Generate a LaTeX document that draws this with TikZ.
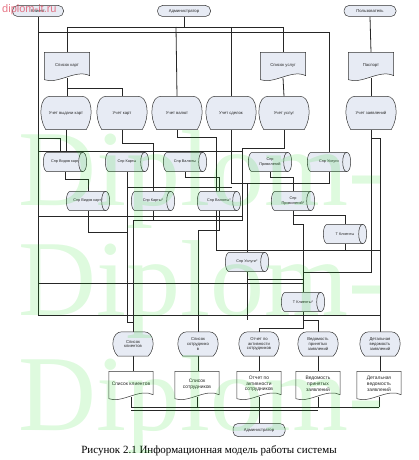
\documentclass[tikz,border=0pt]{standalone}
\usepackage{fontspec}
\setmainfont{Liberation Serif}
\newfontfamily\sansLS{Liberation Sans}
\usetikzlibrary{calc}
\pgfdeclarelayer{bg}
\pgfdeclarelayer{shp}
\pgfdeclarelayer{wmark}
\pgfsetlayers{bg,shp,main,wmark}
\definecolor{nfill}{RGB}{231,235,244}
\definecolor{wmgreen}{RGB}{0,215,0}
\definecolor{wmpink}{RGB}{225,85,105}
\newcommand\fTiny{\sansLS\fontsize{4.2}{4.9}\selectfont}
\newcommand\fCyl{\sansLS\fontsize{3.8}{4.4}\selectfont}
\newcommand\fBig{\sansLS\fontsize{4.9}{5.7}\selectfont}
\newcommand\mkdoc[2]{%
  \draw[shpl, fill=#2] (#1.north west) -- (#1.north east) -- ($(#1.south east)+(0,-2)$)
    .. controls ($(#1.south)+(9,-9)$) and ($(#1.south)+(-9,7)$) .. ($(#1.south west)+(0,2)$) -- cycle;}
\newcommand\mkdisp[2]{%
  \draw[shpl, fill=#2] ($(#1.south west)+(5,0)$)
    .. controls ($(#1.west)+(-3,4)$) and ($(#1.north west)+(-1,0)$) .. ($(#1.north west)+(9,0)$)
    -- ($(#1.north east)+(-9,0)$)
    .. controls ($(#1.north east)+(1,0)$) and ($(#1.east)+(3,4)$) .. ($(#1.south east)+(-5,0)$) -- cycle;}
\newcommand\mkcyl[1]{%
  \draw[shpl, fill=nfill] ($(#1.north west)+(4,0)$) -- ($(#1.north east)+(-4,0)$)
    .. controls ($(#1.north east)+(1.33,0)$) and ($(#1.south east)+(1.33,0)$) .. ($(#1.south east)+(-4,0)$)
    -- ($(#1.south west)+(4,0)$)
    .. controls ($(#1.south west)+(-1.33,0)$) and ($(#1.north west)+(-1.33,0)$) .. ($(#1.north west)+(4,0)$) -- cycle;
  \draw[shpl] ($(#1.north east)+(-4,0)$)
    .. controls ($(#1.north east)+(-9.33,0)$) and ($(#1.south east)+(-9.33,0)$) .. ($(#1.south east)+(-4,0)$);}
\tikzset{
  base/.style={inner sep=0.5pt, align=center, font=\fTiny, text=black!85},
  term/.style={base, draw=black!80, line width=0.5pt, fill=nfill, rounded corners=5pt},
  docbox/.style={base, minimum width=45pt, minimum height=25pt},
  dispbox/.style={base, minimum width=50pt, minimum height=33pt},
  cylbox/.style={base, minimum width=43pt, minimum height=19pt, font=\fCyl},
  odisp/.style={base, minimum width=40pt, minimum height=24pt},
  bdoc/.style={base, minimum width=44pt, minimum height=25pt, font=\fBig},
  conn/.style={line width=0.8pt, draw=black!85},
  shpl/.style={line width=0.5pt, draw=black!80},
  wm/.style={font=\fontsize{108}{108}\selectfont, text=wmgreen, text opacity=0.13, anchor=base west, inner sep=0pt}
}
\begin{document}
\begin{tikzpicture}[x=1pt,y=-1pt]
\useasboundingbox (0,0) rectangle (419,460);
% terminators
\node[term, minimum width=51pt, minimum height=11pt] (klient) at (38,11) {Клиент};
\node[term, minimum width=53pt, minimum height=11pt] (admin) at (184,11) {Администратор};
\node[term, minimum width=52pt, minimum height=11pt] (polz) at (370,11) {Пользователь};
\node[term, minimum width=52pt, minimum height=13pt] (admin2) at (259,430) {Администратор};
% documents
\node[docbox] (d1) at (67,65) {Список карт};
\node[docbox] (d2) at (283,65) {Список услуг};
\node[docbox] (d3) at (371,65) {Паспорт};
% displays
\node[dispbox] (u1) at (66,113) {Учет выдачи карт};
\node[dispbox] (u2) at (122,113) {Учет карт};
\node[dispbox] (u3) at (177,113) {Учет валют};
\node[dispbox] (u4) at (231,113) {Учет сделок};
\node[dispbox] (u5) at (284,113) {Учет услуг};
\node[dispbox] (u6) at (371,113) {Учет заявлений};
% cylinders
\node[cylbox] (c1) at (65,162) {Спр Видов карт};
\node[cylbox] (c2) at (127,162) {Спр Карты};
\node[cylbox] (c3) at (185,162) {Спр Валюты};
\node[cylbox] (c4) at (270,162) {Спр\\Привилегий};
\node[cylbox] (c5) at (329,162) {Спр Услуги};
\node[cylbox] (c6) at (88,201) {Спр Видов карт*};
\node[cylbox] (c7) at (153,201) {Спр Карты*};
\node[cylbox] (c8) at (219,201) {Спр Валюты*};
\node[cylbox] (c9) at (293,201) {Спр\\Привилегий*};
\node[cylbox] (c10) at (345,234) {Т Клиенты};
\node[cylbox] (c11) at (247,262) {Спр Услуги*};
\node[cylbox] (c12) at (303,302) {Т Клиенты*};
% output displays
\node[odisp] (o1) at (133,344) {Список\\клиентов};
\node[odisp] (o2) at (198,344) {Список\\сотруднико\\в};
\node[odisp] (o3) at (259,344) {Отчет по\\активности\\сотрудников};
\node[odisp] (o4) at (318,344) {Ведомость\\принятых\\заявлений};
\node[odisp] (o5) at (380,344) {Детальная\\ведомость\\заявлений};
% output documents
\node[bdoc] (b1) at (131,384) {Список клиентов};
\node[bdoc] (b2) at (197,384) {Список\\сотрудников};
\node[bdoc] (b3) at (259,384) {Отчет по\\активности\\сотрудников};
\node[bdoc] (b4) at (318,384) {Ведомость\\принятых\\заявлений};
\node[bdoc] (b5) at (379,384) {Детальная\\ведомость\\заявлений};
% caption
\node[font=\fontsize{11}{13}\selectfont, anchor=base, inner sep=0pt] (cap) at (209,453) {Рисунок 2.1 Информационная модель работы системы};

\begin{pgfonlayer}{shp}
  \mkdoc{d1}{nfill}\mkdoc{d2}{nfill}\mkdoc{d3}{nfill}
  \mkdisp{u1}{nfill}\mkdisp{u2}{nfill}\mkdisp{u3}{nfill}\mkdisp{u4}{nfill}\mkdisp{u5}{nfill}\mkdisp{u6}{nfill}
  \mkcyl{c1}\mkcyl{c2}\mkcyl{c3}\mkcyl{c4}\mkcyl{c5}\mkcyl{c6}\mkcyl{c7}\mkcyl{c8}\mkcyl{c9}\mkcyl{c10}\mkcyl{c11}\mkcyl{c12}
  \mkdisp{o1}{nfill}\mkdisp{o2}{nfill}\mkdisp{o3}{nfill}\mkdisp{o4}{nfill}\mkdisp{o5}{nfill}
  \mkdoc{b1}{white}\mkdoc{b2}{white}\mkdoc{b3}{white}\mkdoc{b4}{white}\mkdoc{b5}{white}
\end{pgfonlayer}

\begin{pgfonlayer}{bg}
  % top buses
  \draw[conn] (klient.south) -- (38,315) -- (380,315);
  \draw[conn] (admin.south) -- (184,27);
  \draw[conn] (67,27) -- (283,27);
  \draw[conn] (67,27) -- (d1.north);
  \draw[conn] (176,27) -- (u3.north);
  \draw[conn] (231,27) -- (u4.north);
  \draw[conn] (283,27) -- (d2.north);
  \draw[conn] (38,32) -- (329,32) -- (c5.north);
  \draw[conn] (polz.south) -- (d3.north);
  \draw[conn] (d3.south) -- (u6.north);
  \draw[conn] (d1.south) -- (d1.south |- u1.north);
  \draw[conn] (67,88) -| (u2.north);
  \draw[conn] (d2.south) -- (u5.north);
  % level 3 -> 4
  \draw[conn] (u1.south) -- (u1.south |- c1.north);
  \draw[conn] (38,138) -| ($(c1.north)+(-5,0)$);
  \draw[conn] (38,151) -- (243,151);
  \draw[conn] (u2.south) -- (122,143) -| (c7.north);
  \draw[conn] (u3.south) |- (216,137) -- (216,250) -- (380,250);
  \draw[conn] (c1.south) -- ++(0,8) -| (c6.north);
  \draw[conn] (c3.south) -- ++(0,6) -| (c8.north);
  \draw[conn] (c4.south) -- ++(0,6) -| (c9.north);
  \draw[conn] (c2.south) -- (127,322) -- (133,322);
  \draw[conn] (127,187) -- (232,187);
  \draw[conn] (u4.south) |- (329,183) -- (c5.south);
  \draw[conn] (247,183) -- (c11.north);
  \draw[conn] (u5.south) |- (242,148) -- (242,220) -- (133,220) -- (o1.north);
  \draw[conn] (c6.south) |- (127,232);
  \draw[conn] (c7.south) -- (153,220);
  \draw[conn] (c8.south) -- (219,230) -| (o2.north);
  \draw[conn] (38,216) -- (243,216);
  \draw[conn] (c9.south) -- ++(0,5) -| (c10.north);
  \draw[conn] (c9.south) -- ++(0,14) -| (c12.north);
  \draw[conn] (c10.south) -- (345,250);
  \draw[conn] (u6.south) |- (303,272);
  \draw[conn] (371,138) -| (o5.north);
  \draw[conn] (38,283) -- (303,283);
  \draw[conn] (c11.south) -- (247,320);
  \draw[conn] (247,279) -- (303,279);
  \draw[conn] (c12.south) -- (303,328) -| (o3.north);
  \draw[conn] (303,320) -| (o4.north);
  % outputs
  \draw[conn] (o1.south) -- (o1.south |- b1.north);
  \draw[conn] (o2.south) -- (o2.south |- b2.north);
  \draw[conn] (o3.south) -- (b3.north);
  \draw[conn] (o4.south) -- (b4.north);
  \draw[conn] (o5.south) -- (o5.south |- b5.north);
  \draw[conn] (b1.south) -- (131,407);
  \draw[conn] (b2.south) -- (197,407);
  \draw[conn] (b3.south) -- (259,407);
  \draw[conn] (b4.south) -- (318,407);
  \draw[conn] (b5.south) -- (379,407);
  \draw[conn] (131,407) -- (379,407);
  \draw[conn] (131,410) -- (318,410);
  \draw[conn] (259,407) -- (admin2.north);
\end{pgfonlayer}

\begin{pgfonlayer}{wmark}
  \node[wm] (wm1) at (18,205) {Diplom-};
  \node[wm] (wm2) at (18,315) {Diplom-};
  \node[wm] (wm3) at (18,430) {Diplom-};
  \node[font=\sansLS\fontsize{11}{12}\selectfont, text=wmpink, text opacity=0.8, anchor=base west, inner sep=0pt] (site) at (2,13) {diplom-it.ru};
\end{pgfonlayer}
\end{tikzpicture}
\end{document}
